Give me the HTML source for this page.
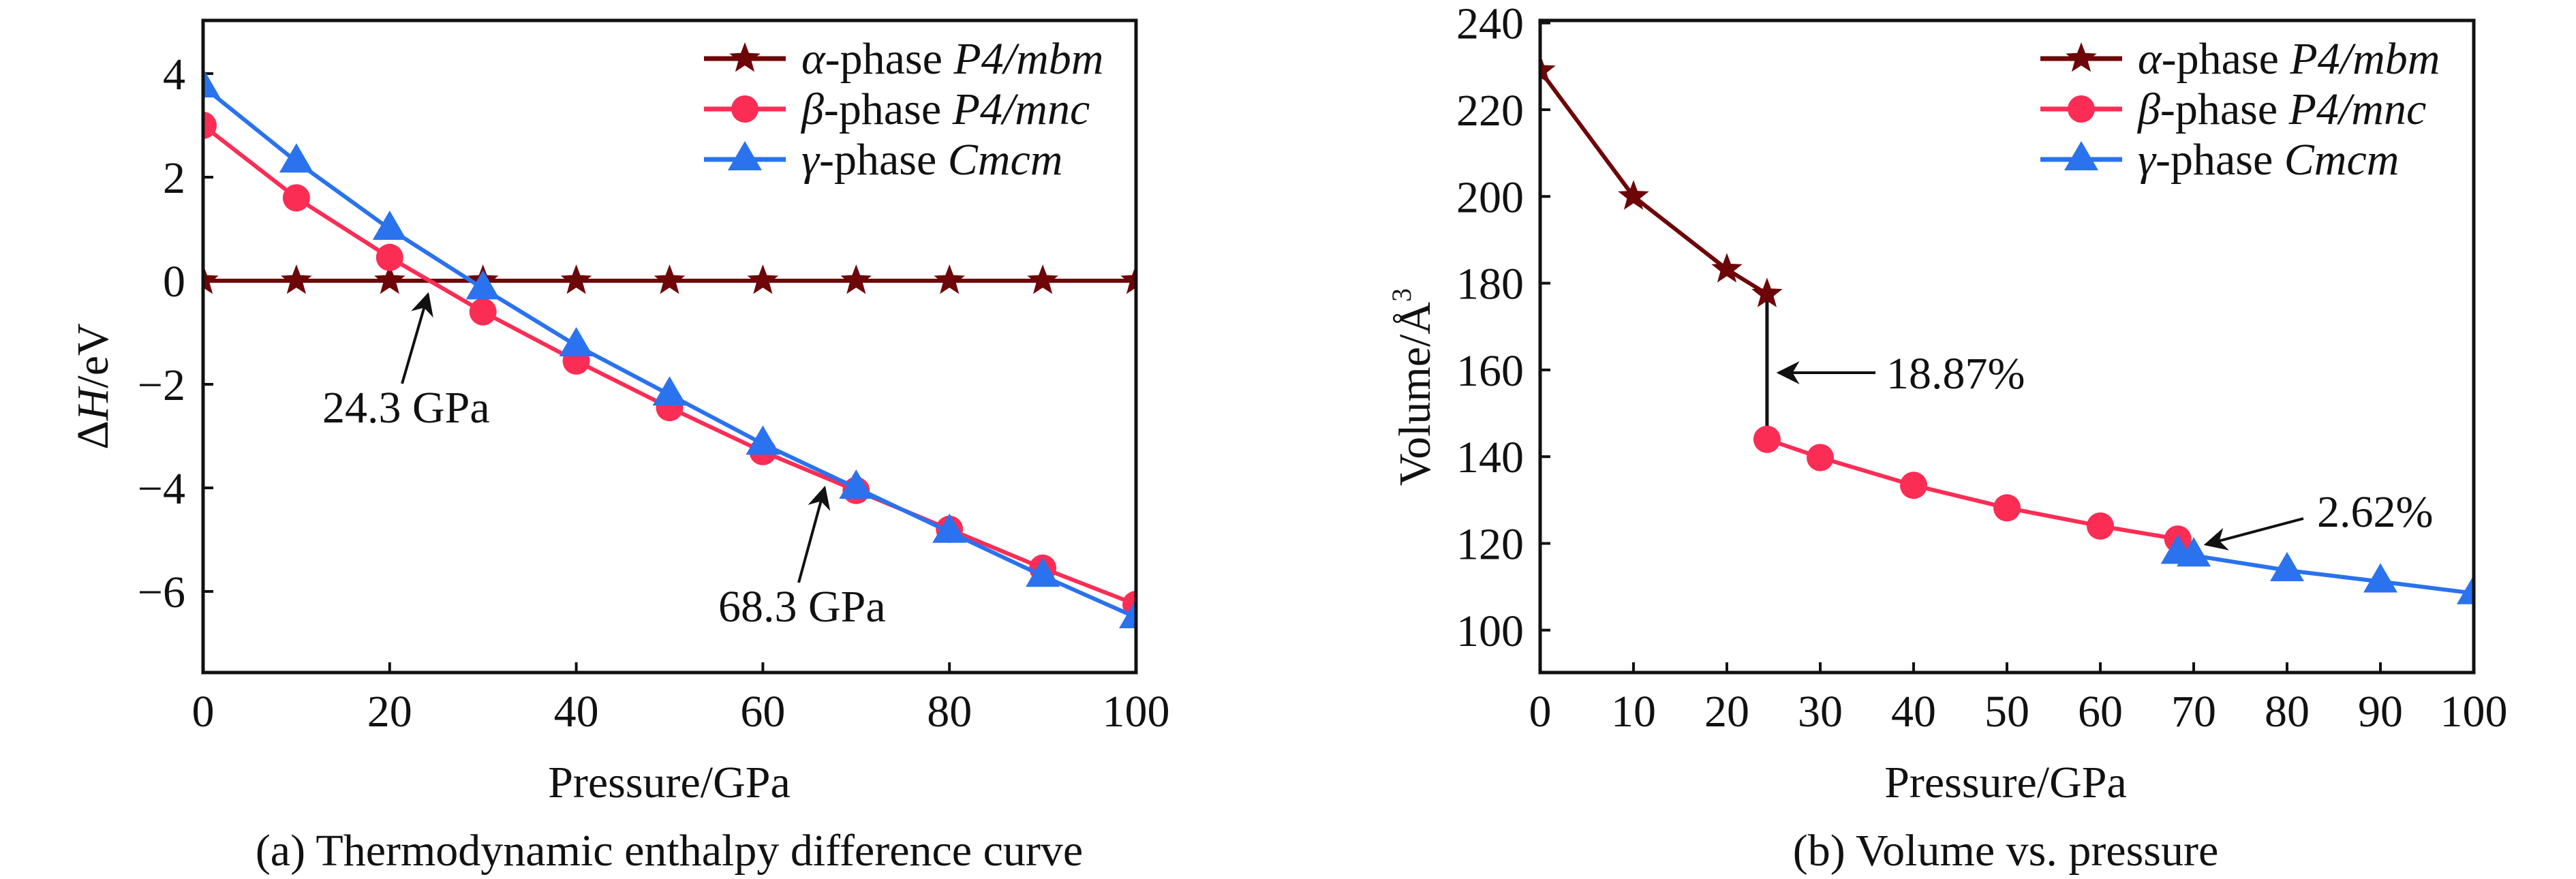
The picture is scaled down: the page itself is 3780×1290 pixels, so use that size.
<!DOCTYPE html>
<html><head><meta charset="utf-8">
<style>
html,body{margin:0;padding:0;background:#fff;}
svg{display:block;font-family:"Liberation Serif","Times New Roman",serif;}
</style></head>
<body>
<svg id="fig" width="3780" height="1290" viewBox="0 0 3780 1290" xmlns="http://www.w3.org/2000/svg"></svg>
<script>
// ---- Panel (a) data: enthalpy difference ----
const aPressure = [0,10,20,30,40,50,60,70,80,90,100];
const aAlpha = [0,0,0,0,0,0,0,0,0,0,0];
const aBeta = [3.0,1.6,0.45,-0.6,-1.55,-2.45,-3.3,-4.05,-4.8,-5.55,-6.25];
const aGamma = [3.75,2.3,1.0,-0.15,-1.25,-2.2,-3.15,-4.0,-4.85,-5.7,-6.5];
const aXTicks = [0,20,40,60,80,100];
const aYTicks = [4,2,0,-2,-4,-6];
// ---- Panel (b) data: volume ----
const bAlphaP = [0,10,20,24.3];
const bAlphaV = [229,200,183.2,177.5];
const bBetaP = [24.3,30,40,50,60,68.3];
const bBetaV = [144,139.8,133.4,128.2,124,121];
const bGammaP = [68.3,70,80,90,100];
const bGammaV = [117.8,117.2,113.8,111.2,108.5];
const bXTicks = [0,10,20,30,40,50,60,70,80,90,100];
const bYTicks = [100,120,140,160,180,200,220,240];

const NS="http://www.w3.org/2000/svg";
const svg=document.getElementById('fig');
const C_A="#6e0508", C_B="#fb2d55", C_G="#2a72ee";
function el(tag,attrs,parent){const e=document.createElementNS(NS,tag);for(const k in attrs)e.setAttribute(k,attrs[k]);(parent||svg).appendChild(e);return e;}

function starPts(cx,cy,r){let p=[];for(let i=0;i<10;i++){const rr=i%2?r*0.42:r;const a=-Math.PI/2+i*Math.PI/5;p.push((cx+rr*Math.cos(a)).toFixed(1)+","+(cy+rr*Math.sin(a)).toFixed(1));}return p.join(" ");}
function marker(g,type,cx,cy,color){
  let m;
  if(type==='star'){m=el('polygon',{points:starPts(cx,cy,24),fill:color},g);}
  else if(type==='circle'){m=el('circle',{cx:cx,cy:cy,r:20,fill:color},g);}
  else {m=el('polygon',{points:`${cx},${cy-27} ${cx+25},${cy+16} ${cx-25},${cy+16}`,fill:color},g);}
  
  
}
function series(clipId,name,xs,ys,sx,sy,color,type){
  const g=el('g',{'clip-path':`url(#${clipId})`});
  
  
  const pts=xs.map((x,i)=>sx(x).toFixed(1)+","+sy(ys[i]).toFixed(1)).join(" ");
  el('polyline',{points:pts,fill:'none',stroke:color,'stroke-width':6,'stroke-linejoin':'round'},g);
  xs.forEach((x,i)=>marker(g,type,sx(x),sy(ys[i]),color));
}
function text(str,x,y,opts,name){
  const t=el('text',Object.assign({x:x,y:y,'font-size':66,fill:'#111'},opts||{}));
  t.textContent=str;
  
  
  return t;
}
function legend(x0,items){
  items.forEach((it,i)=>{
    const y=86+i*74;
    const g=el('g',{});
    
    
    el('line',{x1:x0,y1:y,x2:x0+120,y2:y,stroke:it.c,'stroke-width':7},g);
    marker(g,it.t,x0+60,y,it.c);
    const t=el('text',{x:x0+143,y:y+22,'font-size':66,fill:'#111'},g);
    const s1=el('tspan',{'font-style':'italic'},t);s1.textContent=it.g;
    const s1i=el('tspan',{},t);s1i.textContent='-phase ';
    const s2=el('tspan',{'font-style':'italic'},t);s2.textContent=it.n;
  });
}
const defs=el('defs',{});
el('rect',{x:298,y:30,width:1369,height:957},el('clipPath',{id:'clipA'},defs));
el('rect',{x:2260,y:30,width:1370,height:957},el('clipPath',{id:'clipB'},defs));
const mk=el('marker',{id:'arr',viewBox:'0 0 10 10',refX:9,refY:5,markerWidth:9,markerHeight:7,orient:'auto',markerUnits:'userSpaceOnUse'},defs);
mk.setAttribute('markerWidth',48);mk.setAttribute('markerHeight',34);
el('path',{d:'M0,0 L10,5 L0,10 L3,5 Z',fill:'#111'},mk);

// ---------- Panel A ----------
const ax=v=>298+(v/100)*1369;
const ay=v=>412-v*76;
aYTicks.forEach(v=>{
  el('line',{x1:298,y1:ay(v),x2:313,y2:ay(v),stroke:'#111','stroke-width':4});
  text(v<0?'\u2212'+(-v):String(v),272,ay(v)+23,{'text-anchor':'end'},'y-tick-label');
});
aXTicks.forEach(v=>{
  el('line',{x1:ax(v),y1:987,x2:ax(v),y2:972,stroke:'#111','stroke-width':4});
  text(String(v),ax(v),1066,{'text-anchor':'middle'},'x-tick-label');
});
series('clipA','alpha-series',aPressure,aAlpha,ax,ay,C_A,'star');
series('clipA','beta-series',aPressure,aBeta,ax,ay,C_B,'circle');
series('clipA','gamma-series',aPressure,aGamma,ax,ay,C_G,'tri');
const frA=el('rect',{x:298,y:30,width:1369,height:957,fill:'none',stroke:'#111','stroke-width':5});

el('line',{x1:590,y1:563,x2:628,y2:432,stroke:'#111','stroke-width':4,'marker-end':'url(#arr)'});
el('line',{x1:1172,y1:855,x2:1210,y2:716,stroke:'#111','stroke-width':4,'marker-end':'url(#arr)'});
text('24.3 GPa',473,620,{},'annotation-24-3');
text('68.3 GPa',1054,912,{},'annotation-68-3');
legend(1033,[{c:C_A,t:'star',g:'\u03b1',n:'P4/mbm'},{c:C_B,t:'circle',g:'\u03b2',n:'P4/mnc'},{c:C_G,t:'tri',g:'\u03b3',n:'Cmcm'}]);
const ylA=el('text',{transform:'translate(158,567) rotate(-90)','text-anchor':'middle','font-size':66,fill:'#111'});

ylA.innerHTML='\u0394<tspan font-style="italic">H</tspan>/eV';
text('Pressure/GPa',982,1170,{'text-anchor':'middle'},'x-axis-title-a');
text('(a) Thermodynamic enthalpy difference curve',982,1270,{'text-anchor':'middle'},'caption-a');

// ---------- Panel B ----------
const bx=v=>2260+(v/100)*1370;
const by=v=>161-(v-220)*6.365;
bYTicks.forEach(v=>{
  el('line',{x1:2260,y1:by(v),x2:2275,y2:by(v),stroke:'#111','stroke-width':4});
  text(String(v),2236,by(v)+23,{'text-anchor':'end'},'y-tick-label');
});
bXTicks.forEach(v=>{
  el('line',{x1:bx(v),y1:987,x2:bx(v),y2:972,stroke:'#111','stroke-width':4});
  text(String(v),bx(v),1066,{'text-anchor':'middle'},'x-tick-label');
});
el('line',{x1:bx(24.3),y1:by(177.5),x2:bx(24.3),y2:by(143.5),stroke:'#111','stroke-width':5});
series('clipB','alpha-series',bAlphaP,bAlphaV,bx,by,C_A,'star');
series('clipB','beta-series',bBetaP,bBetaV,bx,by,C_B,'circle');
series('clipB','gamma-series',bGammaP,bGammaV,bx,by,C_G,'tri');
const frB=el('rect',{x:2260,y:30,width:1370,height:957,fill:'none',stroke:'#111','stroke-width':5});

el('line',{x1:2752,y1:547,x2:2610,y2:547,stroke:'#111','stroke-width':4,'marker-end':'url(#arr)'});
el('line',{x1:3380,y1:761,x2:3237,y2:799,stroke:'#111','stroke-width':4,'marker-end':'url(#arr)'});
text('18.87%',2768,570,{},'annotation-18-87');
text('2.62%',3400,773,{},'annotation-2-62');
legend(2994,[{c:C_A,t:'star',g:'\u03b1',n:'P4/mbm'},{c:C_B,t:'circle',g:'\u03b2',n:'P4/mnc'},{c:C_G,t:'tri',g:'\u03b3',n:'Cmcm'}]);
const ylB=el('text',{transform:'translate(2098,568) rotate(-90)','text-anchor':'middle','font-size':66,fill:'#111'});

ylB.innerHTML='Volume/\u00c5<tspan font-size="40" dy="-28">3</tspan>';
text('Pressure/GPa',2943,1170,{'text-anchor':'middle'},'x-axis-title-b');
text('(b) Volume vs. pressure',2943,1270,{'text-anchor':'middle'},'caption-b');
</script>
</body></html>
